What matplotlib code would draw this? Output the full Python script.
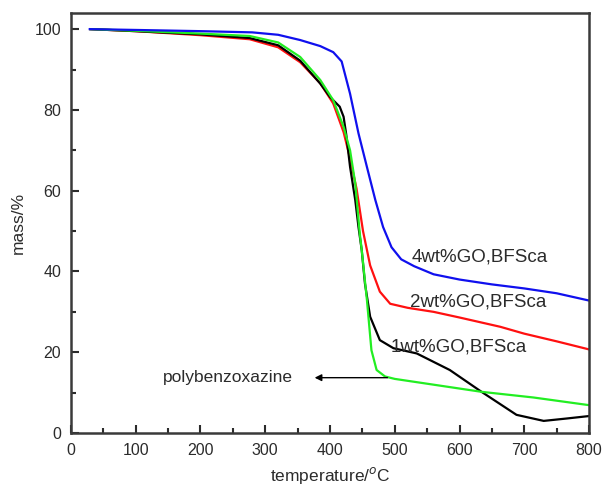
import matplotlib
matplotlib.use("Agg")
import matplotlib.pyplot as plt
from matplotlib.ticker import MultipleLocator

plt.rcParams['font.family'] = ['Liberation Sans', 'DejaVu Sans']

# 4wt%GO,BFSca
t_4 = [29, 100, 200, 280, 320, 354, 385, 405, 418, 431, 444, 457, 470, 482, 495, 510, 530, 560, 600, 650, 700, 750, 800]
m_4 = [100, 99.8, 99.5, 99.2, 98.6, 97.3, 95.8, 94.3, 92, 84, 74.2, 65.9, 57.7, 51, 46, 43, 41.3, 39.3, 38, 36.8, 35.8, 34.6, 32.8]

# 2wt%GO,BFSca
t_2 = [30, 100, 200, 276, 320, 354, 385, 405, 421, 431, 441, 451, 462, 477, 493, 520, 560, 600, 663, 700, 750, 800]
m_2 = [100, 99.5, 98.5, 97.5, 95.5, 91.8, 86.6, 81.6, 74.5, 68, 60.5, 50, 41.5, 35, 32, 31, 30, 28.6, 26.3, 24.6, 22.7, 20.7]

# 1wt%GO,BFSca
t_1 = [30, 100, 200, 276, 320, 354, 385, 400, 415, 421, 425, 431, 439, 444, 449, 454, 462, 477, 498, 534, 585, 634, 688, 730, 766, 800]
m_1 = [100, 99.5, 98.7, 97.8, 96, 92.2, 86.5, 83.2, 80.8, 78.3, 74, 65.9, 57.7, 51, 45.3, 37, 28.8, 23, 21, 19.7, 15.6, 10.2, 4.5, 3, 3.6, 4.2]

# polybenzoxazine
t_p = [30, 100, 200, 276, 320, 354, 385, 405, 421, 431, 439, 446, 449, 457, 464, 472, 485, 500, 634, 714, 800]
m_p = [100, 99.6, 98.9, 98.3, 96.7, 93.1, 87.4, 82.4, 75.8, 70, 61.8, 49.4, 45.3, 33, 20.5, 15.6, 14, 13.4, 10.2, 8.8, 6.9]

txt = '#2b2b2b'

fig = plt.figure(figsize=(6.03, 4.9), dpi=100)
ax = fig.add_axes([0.1177, 0.1163, 0.8591, 0.8572])

ax.plot(t_2, m_2, color='#ff1010', lw=1.6)
ax.plot(t_1, m_1, color='black', lw=1.6)
ax.plot(t_p, m_p, color='#22ee22', lw=1.6)
ax.plot(t_4, m_4, color='#1010ee', lw=1.6)

ax.set_xlim(0, 800)
ax.set_ylim(0, 104)
ax.xaxis.set_major_locator(MultipleLocator(100))
ax.xaxis.set_minor_locator(MultipleLocator(50))
ax.yaxis.set_major_locator(MultipleLocator(20))
ax.yaxis.set_minor_locator(MultipleLocator(10))
ax.tick_params(which='both', direction='in', top=False, right=False,
               colors=txt, labelsize=11.5, width=1.5)
ax.tick_params(which='major', length=6, pad=7)
ax.tick_params(which='minor', length=3.5)
for s in ax.spines.values():
    s.set_linewidth(1.8)
    s.set_color('#3a3a3a')

ax.set_xlabel(r'temperature/$^{o}$C', fontsize=12.5, color=txt, labelpad=5)
ax.set_ylabel('mass/%', fontsize=12.5, color=txt, labelpad=6)

ax.text(526, 43.6, '4wt%GO,BFSca', fontsize=13.5, color=txt, va='center')
ax.text(524, 32.5, '2wt%GO,BFSca', fontsize=13.5, color=txt, va='center')
ax.text(493, 21.4, '1wt%GO,BFSca', fontsize=13.5, color=txt, va='center')
ax.annotate('', xy=(372, 13.7), xytext=(493, 13.7),
            arrowprops=dict(arrowstyle='-|>', color='black', lw=1, mutation_scale=10))
ax.text(142, 13.7, 'polybenzoxazine', fontsize=12.5, color=txt, va='center')

fig.savefig('out.png', dpi=100)
